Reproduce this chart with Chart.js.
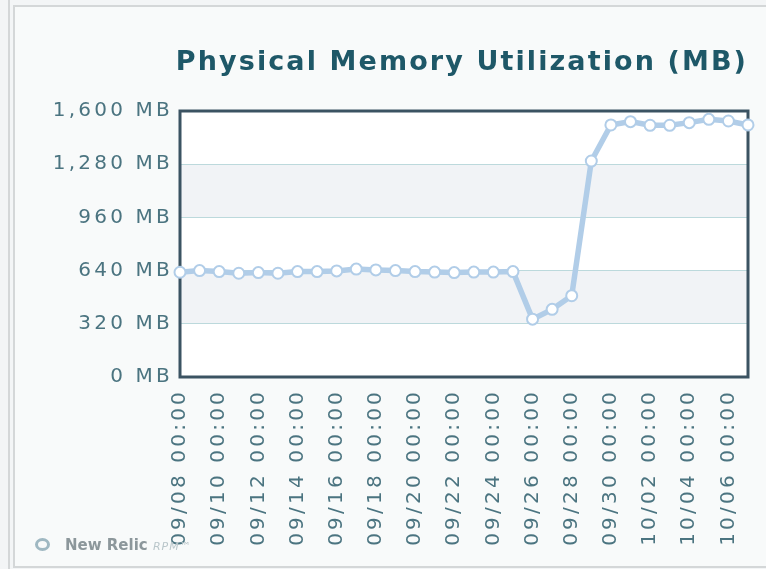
<!DOCTYPE html>
<html>
<head>
<meta charset="utf-8">
<title>Physical Memory Utilization (MB)</title>
<script src="https://cdn.jsdelivr.net/npm/chart.js@4"></script>
<style>
    body { margin: 0; background: #f3f5f6; }
    #frame {
        position: absolute; left: 13px; top: 5px; width: 753px; height: 559px;
        border-top: 2px solid #d4d7d8; border-left: 2px solid #d4d7d8; border-bottom: 2px solid #d4d7d8;
        background: #f8fafa;
    }
    #rule { position: absolute; left: 8px; top: 0; width: 2px; height: 569px; background: #d4d7d8; }
    #chart { position: absolute; left: 0; top: 0; }
    #logo {
        position: absolute; left: 35px; top: 536px;
        font-family: "DejaVu Sans", sans-serif; font-size: 15px; font-weight: bold; color: #8c979b;
    }
    #logo .ring {
        display: inline-block; width: 9px; height: 7px; border: 3px solid #9fb8c2; border-radius: 50%;
        margin-right: 15px; vertical-align: -1px;
    }
    #logo .rpm { font-size: 11px; font-style: italic; font-weight: normal; color: #b9c6ca; letter-spacing: 1px; }
</style>
</head>
<body>
<div id="rule"></div>
<div id="frame"></div>
<canvas id="chart" width="766" height="569"></canvas>
<div id="logo"><span class="ring"></span>New Relic <span class="rpm">RPM&trade;</span></div>
<script>
const dates = [
    '09/08 00:00', '09/09 00:00', '09/10 00:00', '09/11 00:00', '09/12 00:00', '09/13 00:00',
    '09/14 00:00', '09/15 00:00', '09/16 00:00', '09/17 00:00', '09/18 00:00', '09/19 00:00',
    '09/20 00:00', '09/21 00:00', '09/22 00:00', '09/23 00:00', '09/24 00:00', '09/25 00:00',
    '09/26 00:00', '09/27 00:00', '09/28 00:00', '09/29 00:00', '09/30 00:00', '10/01 00:00',
    '10/02 00:00', '10/03 00:00', '10/04 00:00', '10/05 00:00', '10/06 00:00', '10/07 00:00'
];
const memoryMB = [
    630, 640, 634, 624, 628, 624, 634, 634, 638, 649, 644, 640, 634, 631, 628,
    631, 631, 634, 348, 407, 489, 1299, 1516, 1536, 1514, 1514, 1530, 1550, 1540, 1516
];
const yTicks = [0, 320, 640, 960, 1280, 1600];

// the reference text is widely spaced, canvas state gets reset on resize so set it every pass
const spacing = {
    id: 'spacing',
    beforeUpdate(chart) { chart.ctx.letterSpacing = '3.2px'; },
    beforeDraw(chart) {
        chart.ctx.letterSpacing = '3.2px';
        const tb = chart.titleBlock;
        if (tb && !tb._spaced) {
            const draw = tb.draw;
            tb.draw = function () {
                const ctx = this.ctx;
                ctx.save();
                ctx.letterSpacing = '2.1px';
                draw.apply(this, arguments);
                ctx.restore();
            };
            tb._spaced = true;
        }
    }
};

const plotBox = {
    id: 'plotBox',
    beforeDraw(chart) {
        const { ctx, chartArea: a, scales: { y } } = chart;
        ctx.save();
        ctx.fillStyle = '#ffffff';
        ctx.fillRect(a.left, a.top, a.width, a.height);
        ctx.fillStyle = '#f1f3f6';
        for (let i = 1; i < yTicks.length - 1; i += 2) {
            const top = y.getPixelForValue(yTicks[i + 1]);
            const bottom = y.getPixelForValue(yTicks[i]);
            ctx.fillRect(a.left, top, a.width, bottom - top);
        }
        ctx.restore();
    },
    beforeDatasetsDraw(chart) {
        const { ctx, chartArea: a } = chart;
        ctx.save();
        ctx.strokeStyle = '#3b5362';
        ctx.lineWidth = 3;
        ctx.strokeRect(a.left, a.top, a.width, a.height);
        ctx.restore();
    }
};

new Chart(document.getElementById('chart'), {
    type: 'line',
    data: {
        labels: dates,
        datasets: [{
            data: memoryMB,
            borderColor: '#b1cde8',
            borderWidth: 5.5,
            pointRadius: 5.5,
            pointBorderWidth: 2,
            pointBackgroundColor: '#ffffff',
            pointBorderColor: '#b1cde8',
            tension: 0,
            clip: false
        }]
    },
    options: {
        responsive: false,
        animation: false,
        devicePixelRatio: 1,
        layout: { padding: { left: 0, right: 18, top: 0, bottom: 0 } },
        plugins: {
            legend: { display: false },
            tooltip: { enabled: false },
            title: {
                display: true,
                text: 'Physical Memory Utilization (MB)',
                align: 'end',
                color: '#1e5868',
                font: { family: 'DejaVu Sans', size: 27, weight: 'bold', lineHeight: 1.2 },
                padding: { top: 47, bottom: 31.6 }
            }
        },
        scales: {
            x: {
                border: { display: false },
                grid: { display: false, drawTicks: false },
                ticks: {
                    autoSkip: false,
                    minRotation: 90,
                    maxRotation: 90,
                    padding: 12,
                    color: '#4b7480',
                    font: { family: 'DejaVu Sans', size: 20 },
                    callback: (v, i) => (i % 2 === 0 ? dates[i] : '')
                },
                afterFit: s => {
                    s.height = 192;
                    s.paddingLeft = 0;
                    s.paddingRight = 0;
                }
            },
            y: {
                min: 0,
                max: 1600,
                border: { display: false },
                grid: { color: '#bcd9dc', lineWidth: 1, drawTicks: false },
                ticks: {
                    stepSize: 320,
                    padding: 7,
                    color: '#4b7480',
                    font: { family: 'DejaVu Sans', size: 20 },
                    callback: v => v.toLocaleString('en-US') + ' MB'
                },
                afterFit: s => { s.width = 180; }
            }
        }
    },
    plugins: [spacing, plotBox]
});
</script>
</body>
</html>
